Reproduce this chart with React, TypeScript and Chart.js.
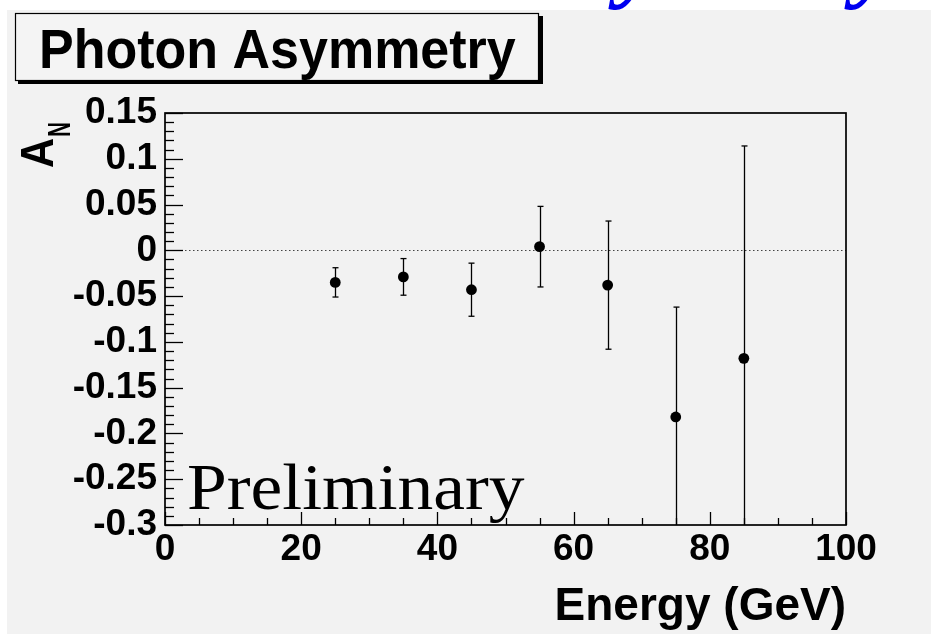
import React, { useEffect, useRef } from 'react';
import { Chart, registerables } from 'chart.js';

Chart.register(...registerables);

// ---- data ----
const energies = [25, 35, 45, 55, 65, 75, 85];
const asymmetry = [-0.035, -0.029, -0.043, 0.004, -0.038, -0.182, -0.118];
const errors = [0.016, 0.02, 0.029, 0.044, 0.07, 0.12, 0.232];

const xTickValues = [0, 20, 40, 60, 80, 100];
const xTickLabels = ['0', '20', '40', '60', '80', '100'];
const yTickValues = [0.15, 0.1, 0.05, 0, -0.05, -0.1, -0.15, -0.2, -0.25, -0.3];
const yTickLabels = ['0.15', '0.1', '0.05', '0', '-0.05', '-0.1', '-0.15', '-0.2', '-0.25', '-0.3'];

const titleText = 'Photon Asymmetry';
const xTitle = 'Energy (GeV)';
const yTitleMain = 'A';
const yTitleSub = 'N';
const watermark = 'Preliminary';
// descenders of a blue slide heading that is cut off at the top of the page
const topBlueGlyphs = ['y', 'y'];
const topBlueGlyphX = [618, 854];

const SANS = '"Liberation Sans", Arial, sans-serif';
const SERIF = '"Liberation Serif", "Times New Roman", serif';

const decorPlugin = {
  id: 'decor',
  beforeDraw(chart: any) {
    const ctx = chart.ctx as CanvasRenderingContext2D;
    const W = chart.width, H = chart.height;
    ctx.save();
    ctx.fillStyle = '#ffffff';
    ctx.fillRect(0, 0, W, H);
    ctx.fillStyle = '#f2f2f2';
    ctx.fillRect(7, 10, W - 7, H - 10);

    // blue slide heading fragment (off the top of the page)
    ctx.font = `italic bold 96px ${SERIF}`;
    ctx.fillStyle = '#0000f0';
    ctx.textBaseline = 'alphabetic';
    ctx.textAlign = 'left';
    topBlueGlyphs.forEach((g, i) => ctx.fillText(g, topBlueGlyphX[i], -10));

    // title box with shadow
    ctx.fillStyle = '#000';
    ctx.fillRect(18, 16, 525, 68);
    ctx.fillStyle = '#f4f4f4';
    ctx.fillRect(15, 13, 524, 68);
    ctx.strokeStyle = '#000';
    ctx.lineWidth = 1.2;
    ctx.strokeRect(15.5, 13.5, 523, 67);
    ctx.fillStyle = '#000';
    ctx.save();
    ctx.translate(39, 68);
    ctx.scale(1, 1.05);
    ctx.font = `bold 52px ${SANS}`;
    ctx.fillText(titleText, 0, 0);
    ctx.restore();
    ctx.restore();
  },
  beforeDatasetsDraw(chart: any) {
    const ctx = chart.ctx as CanvasRenderingContext2D;
    const xs = chart.scales.x, ys = chart.scales.y;
    const area = chart.chartArea;
    ctx.save();
    // dotted zero line
    ctx.strokeStyle = '#444';
    ctx.lineWidth = 1;
    ctx.setLineDash([1.5, 2.5]);
    const y0 = Math.round(ys.getPixelForValue(0)) + 0.5;
    ctx.beginPath();
    ctx.moveTo(xs.getPixelForValue(0), y0);
    ctx.lineTo(xs.getPixelForValue(100), y0);
    ctx.stroke();
    ctx.setLineDash([]);

    // error bars
    ctx.beginPath();
    ctx.rect(area.left, area.top, area.right - area.left, area.bottom - area.top);
    ctx.clip();
    ctx.strokeStyle = '#000';
    ctx.lineWidth = 1.3;
    energies.forEach((e, i) => {
      const px = Math.round(xs.getPixelForValue(e)) + 0.5;
      const hi = asymmetry[i] + errors[i];
      const lo = asymmetry[i] - errors[i];
      const pyHi = ys.getPixelForValue(hi);
      const pyLo = ys.getPixelForValue(lo);
      ctx.beginPath();
      ctx.moveTo(px, pyHi);
      ctx.lineTo(px, pyLo);
      ctx.stroke();
      const cap = 3;
      if (hi <= ys.max) {
        ctx.beginPath();
        ctx.moveTo(px - cap, pyHi);
        ctx.lineTo(px + cap, pyHi);
        ctx.stroke();
      }
      if (lo >= ys.min) {
        ctx.beginPath();
        ctx.moveTo(px - cap, pyLo);
        ctx.lineTo(px + cap, pyLo);
        ctx.stroke();
      }
    });
    ctx.restore();
  },
  afterDraw(chart: any) {
    const ctx = chart.ctx as CanvasRenderingContext2D;
    const xs = chart.scales.x, ys = chart.scales.y;
    const { left, right, top, bottom } = chart.chartArea;
    ctx.save();
    // frame
    ctx.strokeStyle = '#000';
    ctx.lineWidth = 1.7;
    ctx.strokeRect(left, top, right - left, bottom - top);

    // inner ticks on y axis: minor every 0.01, major every 0.05
    ctx.lineWidth = 1.3;
    for (let i = 0; i <= 45; i++) {
      const v = ys.min + i * 0.01;
      const py = Math.round(ys.getPixelForValue(v)) + 0.5;
      const len = i % 5 === 0 ? 18 : 9;
      ctx.beginPath();
      ctx.moveTo(left, py);
      ctx.lineTo(left + len, py);
      ctx.stroke();
    }
    // inner ticks on x axis: minor every 5, major every 20
    for (let i = 0; i <= 20; i++) {
      const v = i * 5;
      const px = Math.round(xs.getPixelForValue(v)) + 0.5;
      const len = v % 20 === 0 ? 13 : 7;
      ctx.beginPath();
      ctx.moveTo(px, bottom);
      ctx.lineTo(px, bottom - len);
      ctx.stroke();
    }

    // y title A_N (rotated)
    ctx.fillStyle = '#000';
    ctx.save();
    ctx.translate(53, 168);
    ctx.rotate(-Math.PI / 2);
    ctx.textBaseline = 'alphabetic';
    ctx.textAlign = 'left';
    ctx.save();
    ctx.scale(0.95, 1.05);
    ctx.font = `bold 44px ${SANS}`;
    const wA = ctx.measureText(yTitleMain).width * 0.95;
    ctx.fillText(yTitleMain, 0, 0);
    ctx.restore();
    ctx.save();
    ctx.translate(wA + 1, 17);
    ctx.scale(0.85, 1.3);
    ctx.font = `bold 24px ${SANS}`;
    ctx.fillText(yTitleSub, 0, 0);
    ctx.restore();
    ctx.restore();

    // Preliminary watermark
    ctx.save();
    ctx.font = `65px ${SERIF}`;
    ctx.textBaseline = 'alphabetic';
    ctx.textAlign = 'left';
    ctx.translate(187, 509);
    ctx.scale(1.1, 1);
    ctx.fillText(watermark, 0, 0);
    ctx.restore();
    ctx.restore();
  },
};

export default function App() {
  const ref = useRef<HTMLCanvasElement>(null);
  useEffect(() => {
    document.body.style.margin = '0';
    const canvas = ref.current!;
    const chart = new Chart(canvas, {
      type: 'scatter',
      data: {
        datasets: [
          {
            data: energies.map((x, i) => ({ x, y: asymmetry[i] })),
            pointRadius: 5.4,
            pointHoverRadius: 5.4,
            pointBackgroundColor: '#000',
            pointBorderColor: '#000',
            pointBorderWidth: 0,
            showLine: false,
          },
        ],
      },
      options: {
        animation: false,
        responsive: false,
        devicePixelRatio: 1,
        events: [],
        layout: { padding: { left: 0, top: 113, right: 85, bottom: 0 } },
        plugins: { legend: { display: false }, tooltip: { enabled: false } },
        scales: {
          x: {
            type: 'linear',
            min: 0,
            max: 100,
            afterBuildTicks: (s: any) => {
              s.ticks = xTickValues.map((v) => ({ value: v }));
            },
            afterFit: (s: any) => {
              s.height = 109;
            },
            grid: { display: false, drawTicks: false },
            border: { display: false },
            ticks: {
              padding: 3,
              color: '#000',
              maxRotation: 0,
              autoSkip: false,
              font: { family: SANS, size: 37, weight: 'bold' },
              callback: (_v: any, i: number) => xTickLabels[i],
            },
            title: {
              display: true,
              text: xTitle,
              align: 'end',
              color: '#000',
              font: { family: SANS, size: 46, weight: 'bold', lineHeight: 1 },
              padding: { top: 0, bottom: 4 },
            },
          },
          y: {
            type: 'linear',
            min: -0.3,
            max: 0.15,
            afterBuildTicks: (s: any) => {
              s.ticks = yTickValues.map((v) => ({ value: v }));
            },
            afterFit: (s: any) => {
              s.width = 165;
            },
            grid: { display: false, drawTicks: false },
            border: { display: false },
            ticks: {
              padding: 8,
              color: '#000',
              autoSkip: false,
              font: { family: SANS, size: 37, weight: 'bold' },
              callback: (_v: any, i: number) => yTickLabels[i],
            },
          },
        },
      },
      plugins: [decorPlugin],
    } as any);
    return () => chart.destroy();
  }, []);
  return (
    <canvas
      ref={ref}
      width={931}
      height={634}
      style={{ display: 'block', width: 931, height: 634 }}
    />
  );
}
